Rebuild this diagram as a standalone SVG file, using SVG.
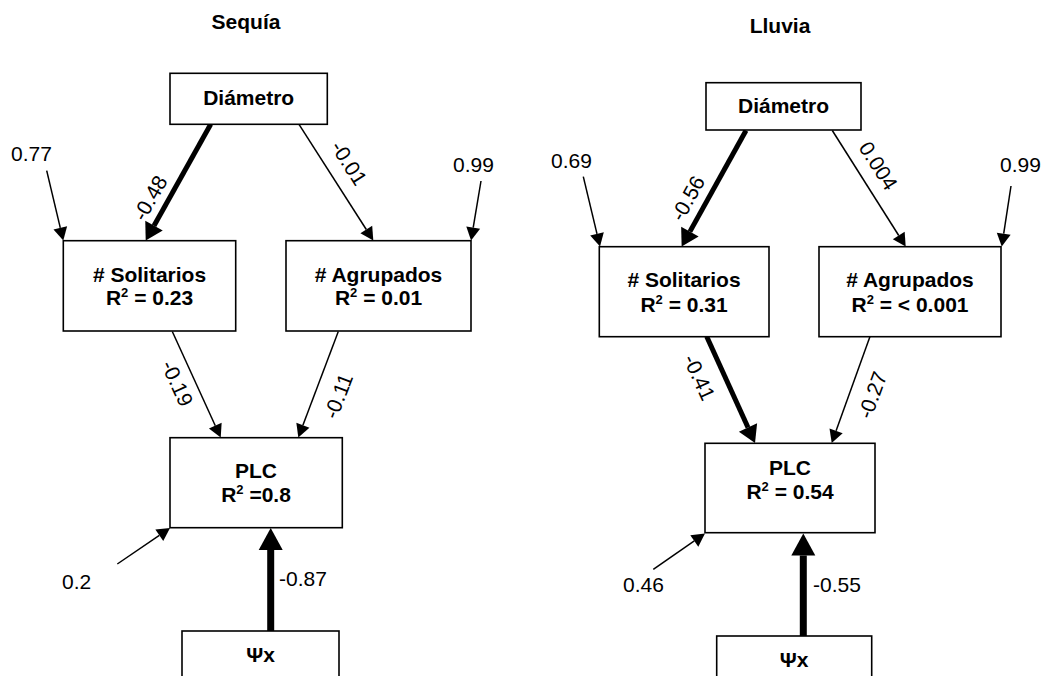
<svg xmlns="http://www.w3.org/2000/svg" width="1050" height="676" viewBox="0 0 1050 676">
  <style>
    .box { fill: #fff; stroke: #000; stroke-width: 1.6; }
    .lbl { font-family: "Liberation Sans", Arial, sans-serif; font-size: 21px; font-weight: bold; fill: #000; text-anchor: middle; }
    .num { font-family: "Liberation Sans", Arial, sans-serif; font-size: 21px; fill: #000; }
    .rot { text-anchor: middle; }
    .sup { font-size: 13px; }
    .thin { stroke: #000; stroke-width: 1.5; fill: none; marker-end: url(#headThin); }
    .thick { stroke: #000; stroke-width: 5; fill: none; marker-end: url(#headThick); }
    .heavy { stroke: #000; stroke-width: 7; fill: none; marker-end: url(#headHeavy); }
  </style>
  <defs>
    <marker id="headThin" markerUnits="userSpaceOnUse" markerWidth="14" markerHeight="14" refX="0" refY="7" orient="auto" overflow="visible">
      <path d="M0,0 L13,7 L0,14 Z" fill="#000"/>
    </marker>
    <marker id="headThick" markerUnits="userSpaceOnUse" markerWidth="18" markerHeight="20" refX="0" refY="10" orient="auto" overflow="visible">
      <path d="M0,0 L17,10 L0,20 Z" fill="#000"/>
    </marker>
    <marker id="headHeavy" markerUnits="userSpaceOnUse" markerWidth="22" markerHeight="24" refX="0" refY="12" orient="auto" overflow="visible">
      <path d="M0,0 L22,12 L0,24 Z" fill="#000"/>
    </marker>
  </defs>
  <rect width="1050" height="676" fill="#fff"/>

  <!-- Panel titles -->
  <text class="lbl" x="246" y="29">Sequía</text>
  <text class="lbl" x="780" y="33">Lluvia</text>

  <!-- Connectors -->
  <g id="connectors">
    <!-- Sequía -->
    <line class="thick" x1="210.7" y1="124.3" x2="154.0" y2="225.7"/>
    <line class="thin" x1="299" y1="124.3" x2="366.3" y2="229.5"/>
    <line class="thin" x1="46.7" y1="170.7" x2="60.3" y2="227.8"/>
    <line class="thin" x1="481" y1="181" x2="473.2" y2="227.7"/>
    <line class="thin" x1="172.3" y1="331.5" x2="215.3" y2="425.7"/>
    <line class="thin" x1="338.3" y1="331.5" x2="302.9" y2="425.3"/>
    <line class="thin" x1="117.3" y1="564" x2="159.3" y2="535.3"/>
    <line class="heavy" x1="270.7" y1="631" x2="270.7" y2="550"/>
    <!-- Lluvia -->
    <line class="thick" x1="746" y1="130.5" x2="689.9" y2="231.6"/>
    <line class="thin" x1="832.3" y1="130.5" x2="898.75" y2="235.5"/>
    <line class="thin" x1="583.3" y1="176.7" x2="597" y2="233.9"/>
    <line class="thin" x1="1011" y1="186" x2="1003.7" y2="233.7"/>
    <line class="thick" x1="706.7" y1="336.5" x2="748" y2="427.5"/>
    <line class="thin" x1="870" y1="336.5" x2="836.1" y2="430.8"/>
    <line class="thin" x1="653.3" y1="569.3" x2="694.3" y2="540.9"/>
    <line class="heavy" x1="803.3" y1="636" x2="803.3" y2="555.5"/>
  </g>

  <!-- Path coefficients and residuals -->
  <g id="coefficients">
    <text class="num" x="11" y="161">0.77</text>
    <text class="num" x="453" y="172">0.99</text>
    <text class="num" x="62" y="589">0.2</text>
    <text class="num" x="279" y="586">-0.87</text>
    <text class="num rot" x="150" y="198" dy="0.35em" transform="rotate(-60.7 150 198)">-0.48</text>
    <text class="num rot" x="349" y="163" dy="0.35em" transform="rotate(57.5 349 163)">-0.01</text>
    <text class="num rot" x="177.3" y="383.3" dy="0.35em" transform="rotate(65.5 177.3 383.3)">-0.19</text>
    <text class="num rot" x="338.3" y="396" dy="0.35em" transform="rotate(-69 338.3 396)">-0.11</text>

    <text class="num" x="551" y="168">0.69</text>
    <text class="num" x="1000" y="172">0.99</text>
    <text class="num" x="623" y="592">0.46</text>
    <text class="num" x="813" y="592">-0.55</text>
    <text class="num rot" x="687.7" y="198.3" dy="0.35em" transform="rotate(-61 687.7 198.3)">-0.56</text>
    <text class="num rot" x="878.3" y="165.7" dy="0.35em" transform="rotate(57.7 878.3 165.7)">0.004</text>
    <text class="num rot" x="699.3" y="377.3" dy="0.35em" transform="rotate(65.5 699.3 377.3)">-0.41</text>
    <text class="num rot" x="872.3" y="395" dy="0.35em" transform="rotate(-70 872.3 395)">-0.27</text>
  </g>

  <!-- Sequía nodes -->
  <g id="seq-diametro">
    <rect class="box" x="170" y="73.3" width="157.3" height="51"/>
    <text class="lbl" x="248.7" y="105">Diámetro</text>
  </g>
  <g id="seq-solitarios">
    <rect class="box" x="63.3" y="240.7" width="172.4" height="90.3"/>
    <text class="lbl" x="149.5" y="282">#&#160;Solitarios</text>
    <text class="lbl" x="149.5" y="305">R<tspan class="sup" dy="-8">2</tspan><tspan dy="8"> = 0.23</tspan></text>
  </g>
  <g id="seq-agrupados">
    <rect class="box" x="286" y="240.7" width="185" height="90.3"/>
    <text class="lbl" x="378.5" y="282"># Agrupados</text>
    <text class="lbl" x="378.5" y="305">R<tspan class="sup" dy="-8">2</tspan><tspan dy="8"> = 0.01</tspan></text>
  </g>
  <g id="seq-plc">
    <rect class="box" x="170" y="437.7" width="172.3" height="90"/>
    <text class="lbl" x="256" y="478.3">PLC</text>
    <text class="lbl" x="256" y="502.3">R<tspan class="sup" dy="-8">2</tspan><tspan dy="8"> =0.8</tspan></text>
  </g>
  <g id="seq-psix">
    <rect class="box" x="182" y="631" width="157" height="60"/>
    <text class="lbl" x="260.5" y="662">Ψx</text>
  </g>

  <!-- Lluvia nodes -->
  <g id="llu-diametro">
    <rect class="box" x="706" y="82.7" width="155" height="47.3"/>
    <text class="lbl" x="783.5" y="112.7">Diámetro</text>
  </g>
  <g id="llu-solitarios">
    <rect class="box" x="599.3" y="246.7" width="169.7" height="90"/>
    <text class="lbl" x="684" y="287.3"># Solitarios</text>
    <text class="lbl" x="684" y="311.7">R<tspan class="sup" dy="-8">2</tspan><tspan dy="8"> = 0.31</tspan></text>
  </g>
  <g id="llu-agrupados">
    <rect class="box" x="819" y="246.7" width="182" height="90"/>
    <text class="lbl" x="910" y="287.3"># Agrupados</text>
    <text class="lbl" x="910" y="311.7">R<tspan class="sup" dy="-8">2</tspan><tspan dy="8"> = &lt; 0.001</tspan></text>
  </g>
  <g id="llu-plc">
    <rect class="box" x="705" y="443.3" width="170" height="89.4"/>
    <text class="lbl" x="790" y="475">PLC</text>
    <text class="lbl" x="790" y="499">R<tspan class="sup" dy="-8">2</tspan><tspan dy="8"> = 0.54</tspan></text>
  </g>
  <g id="llu-psix">
    <rect class="box" x="716.7" y="636" width="155" height="60"/>
    <text class="lbl" x="794.2" y="667">Ψx</text>
  </g>
</svg>
